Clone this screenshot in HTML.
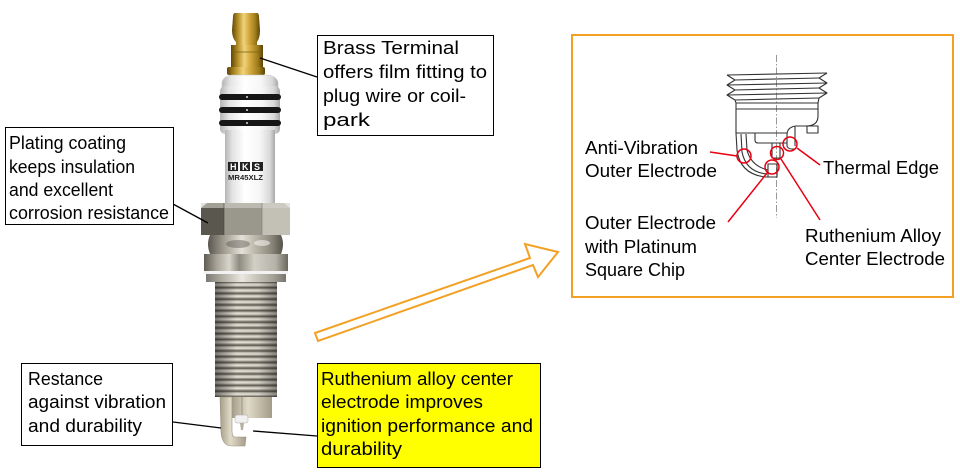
<!DOCTYPE html>
<html><head><meta charset="utf-8"><style>
html,body{margin:0;padding:0;background:#fff;}
svg{display:block;}
text{font-family:"Liberation Sans","Noto Sans CJK JP",sans-serif;font-size:18px;fill:#000;}
</style></head><body>
<svg width="960" height="475" viewBox="0 0 960 475" xmlns="http://www.w3.org/2000/svg">
<defs>
<linearGradient id="gold" x1="0" x2="1" y1="0" y2="0">
 <stop offset="0" stop-color="#5e4608"/><stop offset="0.2" stop-color="#b08a22"/>
 <stop offset="0.42" stop-color="#f0d37a"/><stop offset="0.6" stop-color="#d4aa40"/>
 <stop offset="0.85" stop-color="#9a7818"/><stop offset="1" stop-color="#5a430a"/>
</linearGradient>
<linearGradient id="ins" x1="0" x2="1" y1="0" y2="0">
 <stop offset="0" stop-color="#b5b5b5"/><stop offset="0.15" stop-color="#e4e4e4"/>
 <stop offset="0.4" stop-color="#ffffff"/><stop offset="0.7" stop-color="#f6f6f6"/>
 <stop offset="0.9" stop-color="#d8d8d8"/><stop offset="1" stop-color="#a8a8a8"/>
</linearGradient>
<linearGradient id="metal" x1="0" x2="1" y1="0" y2="0">
 <stop offset="0" stop-color="#5a574f"/><stop offset="0.2" stop-color="#9c988c"/>
 <stop offset="0.45" stop-color="#e4e1d8"/><stop offset="0.6" stop-color="#c2beb2"/>
 <stop offset="0.85" stop-color="#8a867a"/><stop offset="1" stop-color="#55524a"/>
</linearGradient>
<linearGradient id="gask" x1="0" x2="1" y1="0" y2="0">
 <stop offset="0" stop-color="#5f5c54"/><stop offset="0.15" stop-color="#a6a398"/>
 <stop offset="0.3" stop-color="#d8d5cc"/><stop offset="0.42" stop-color="#8e8b80"/>
 <stop offset="0.6" stop-color="#d2cfc6"/><stop offset="0.85" stop-color="#b5b2a8"/>
 <stop offset="1" stop-color="#6b685f"/>
</linearGradient>
<linearGradient id="thr" x1="0" y1="282" x2="0" y2="287.75" gradientUnits="userSpaceOnUse" spreadMethod="repeat">
 <stop offset="0" stop-color="#5f5b52"/><stop offset="0.3" stop-color="#cfcbbf"/>
 <stop offset="0.55" stop-color="#e8e5dc"/><stop offset="0.8" stop-color="#99958a"/>
 <stop offset="1" stop-color="#5f5b52"/>
</linearGradient>
<linearGradient id="shade" x1="0" x2="1" y1="0" y2="0">
 <stop offset="0" stop-color="#000" stop-opacity="0.45"/><stop offset="0.35" stop-color="#000" stop-opacity="0"/>
 <stop offset="0.7" stop-color="#000" stop-opacity="0.05"/><stop offset="1" stop-color="#000" stop-opacity="0.4"/>
</linearGradient>
<linearGradient id="tan" x1="0" x2="1" y1="0" y2="0">
 <stop offset="0" stop-color="#a49d88"/><stop offset="0.4" stop-color="#e0dac8"/>
 <stop offset="1" stop-color="#a39c87"/>
</linearGradient>
</defs>

<!-- ===== Spark plug ===== -->
<path d="M235,13 Q233,13 233,17 L232,30 Q232,38 236,42 L236,46 L257,46 L257,42 Q260,38 260,30 L259,17 Q259,13 257,13 Z" fill="url(#gold)"/>
<rect x="231" y="45" width="32" height="24" fill="url(#gold)"/>
<line x1="231" y1="52" x2="263" y2="52" stroke="#7a5e12" stroke-width="0.8"/>
<rect x="227" y="67" width="38" height="8" rx="2" fill="url(#gold)"/>
<path d="M222,90 L222,82 Q224,76 232,75 L268,75 Q276,76 278,82 L278,90 Z" fill="url(#ins)" stroke="#c8c8c8" stroke-width="0.6"/>
<rect x="220" y="86" width="60" height="48" rx="5" fill="url(#ins)"/>
<rect x="225" y="130" width="50" height="76" fill="url(#ins)"/>
<rect x="219" y="94" width="62" height="6" rx="3" fill="#161616"/>
<rect x="219" y="107" width="62" height="6" rx="3" fill="#161616"/>
<rect x="219" y="120" width="62" height="6" rx="3" fill="#161616"/>
<circle cx="247" cy="97" r="1" fill="#ddd"/><circle cx="247" cy="110" r="1" fill="#ddd"/><circle cx="247" cy="123" r="1" fill="#ddd"/>
<rect x="228" y="162" width="10" height="9" fill="#222"/><rect x="240" y="162" width="10" height="9" fill="#222"/><rect x="252" y="162" width="11" height="9" fill="#222"/>
<text x="230" y="170" style="font-size:9px;font-weight:bold;fill:#fff">H</text>
<text x="242" y="170" style="font-size:9px;font-weight:bold;fill:#fff">K</text>
<text x="254" y="170" style="font-size:9px;font-weight:bold;fill:#fff">S</text>
<text x="228" y="180" textLength="35" lengthAdjust="spacingAndGlyphs" style="font-size:7px;font-weight:bold;fill:#222">MR45XLZ</text>
<polygon points="201,208 207,203 224,203 224,235 201,235" fill="#5a574f"/>
<rect x="224" y="203" width="38" height="32" fill="#9a978d"/>
<polygon points="262,203 284,203 290,208 290,235 262,235" fill="#c3c0b6"/>
<rect x="201" y="203" width="89" height="5" fill="#d4d1c8" opacity="0.6"/>
<line x1="224" y1="203" x2="224" y2="235" stroke="#444" stroke-width="0.6"/>
<line x1="262" y1="203" x2="262" y2="235" stroke="#777" stroke-width="0.6"/>
<path d="M210,235 L281,235 Q285,244 281,254 L210,254 Q206,244 210,235 Z" fill="url(#metal)"/>
<ellipse cx="238" cy="244" rx="12" ry="4" fill="#5a574f" opacity="0.45"/>
<ellipse cx="262" cy="243" rx="8" ry="3" fill="#f4f2ec" opacity="0.6"/>
<rect x="204" y="254" width="84" height="18" fill="url(#gask)"/>
<rect x="204" y="271" width="84" height="3" fill="#f2f2f2"/>
<rect x="206" y="274" width="80" height="8" fill="url(#metal)" opacity="0.8"/>
<rect x="215" y="282" width="62" height="115" fill="url(#thr)"/>
<rect x="215" y="282" width="62" height="115" fill="url(#shade)"/>
<rect x="232" y="397" width="40" height="21" fill="url(#tan)"/>
<line x1="242" y1="397" x2="242" y2="418" stroke="#8f8a78" stroke-width="0.8"/>
<rect x="235" y="415" width="13" height="8" rx="2" fill="#f0f0f0" stroke="#aaa" stroke-width="0.5"/>
<path d="M240,423 L244,423 L243,430 L241,430 Z" fill="#b5b0a0"/>
<path d="M220,397 L221,432 Q222,446 232,446 L245,446 L246,437 L235,437 Q232,437 232,430 L232,397 Z" fill="url(#tan)" stroke="#9a937f" stroke-width="0.6"/>

<g stroke="#000" stroke-width="1.3">
<line x1="260" y1="58" x2="317" y2="77"/>
<line x1="173" y1="204" x2="208" y2="223"/>
<line x1="173" y1="422" x2="221" y2="428"/>
<line x1="253" y1="431" x2="317" y2="436"/>
</g>

<rect x="317.5" y="35.5" width="176" height="100" fill="#fff" stroke="#000" stroke-width="1"/>
<text x="323" y="54" textLength="136" lengthAdjust="spacingAndGlyphs">Brass Terminal</text>
<text x="323" y="78" textLength="164" lengthAdjust="spacingAndGlyphs">offers film fitting to</text>
<text x="323" y="102" textLength="143" lengthAdjust="spacingAndGlyphs">plug wire or coil-</text>
<text x="323" y="126" textLength="47" lengthAdjust="spacingAndGlyphs">park</text>

<rect x="5.5" y="127.5" width="168" height="97" fill="#fff" stroke="#000" stroke-width="1"/>
<text x="9" y="149" textLength="117" lengthAdjust="spacingAndGlyphs">Plating coating</text>
<text x="9" y="173" textLength="126" lengthAdjust="spacingAndGlyphs">keeps insulation</text>
<text x="9" y="196" textLength="104" lengthAdjust="spacingAndGlyphs">and excellent</text>
<text x="9" y="219" textLength="160" lengthAdjust="spacingAndGlyphs">corrosion resistance</text>

<rect x="21.5" y="363.5" width="151" height="82" fill="#fff" stroke="#000" stroke-width="1"/>
<text x="28" y="385" textLength="75" lengthAdjust="spacingAndGlyphs">Restance</text>
<text x="28" y="408" textLength="138" lengthAdjust="spacingAndGlyphs">against vibration</text>
<text x="28" y="432" textLength="114" lengthAdjust="spacingAndGlyphs">and durability</text>

<rect x="317.5" y="363.5" width="223" height="104" fill="#ffff00" stroke="#000" stroke-width="1"/>
<text x="321" y="385" textLength="192" lengthAdjust="spacingAndGlyphs">Ruthenium alloy center</text>
<text x="321" y="408" textLength="162" lengthAdjust="spacingAndGlyphs">electrode improves</text>
<text x="321" y="432" textLength="212" lengthAdjust="spacingAndGlyphs">ignition performance and</text>
<text x="321" y="455" textLength="81" lengthAdjust="spacingAndGlyphs">durability</text>

<polygon points="315,333 530,258 525,244 558,252 538,277 533,265 318,341" fill="#fff" stroke="#f2a125" stroke-width="2" stroke-linejoin="miter"/>

<rect x="572" y="35" width="381" height="262" fill="#fff" stroke="#f2a125" stroke-width="2"/>

<line x1="776.5" y1="55" x2="776.5" y2="218" stroke="#999" stroke-width="1" stroke-dasharray="7,2,1.5,2"/>
<g fill="none" stroke="#333" stroke-width="1.1" stroke-linejoin="round">
<polyline points="727,75 735,80 727,85 735,90 727,95 735,100 736,103"/>
<polyline points="827,73 819,78 827,83 819,88 827,93 819,98 818,103"/>
<line x1="727" y1="75" x2="827" y2="73"/>
<line x1="735" y1="80" x2="819" y2="78"/>
<line x1="727" y1="85" x2="827" y2="83"/>
<line x1="735" y1="90" x2="819" y2="88"/>
<line x1="727" y1="95" x2="827" y2="93"/>
<line x1="735" y1="100" x2="819" y2="98"/>
<line x1="736" y1="103" x2="818" y2="103"/>
<line x1="736" y1="109" x2="818" y2="109"/>
<path d="M736,103 L736,133 L787,133"/>
<path d="M818,103 L818,116 Q818,126 806,126 L796,126 Q787,127 787,135 L787,146 Q788,149 792,149 L795,149"/>
<path d="M795,126 L795,146"/>
<rect x="807" y="126" width="11" height="7"/>
<path d="M736,133 L737,150 Q740,174 765,177 L777,177 L777,165"/>
<path d="M741,134 L742,152 Q746,172 767,174"/>
<path d="M746,134 L747,150 Q751,166 768,170"/>
<path d="M755,133 L755,140 Q755,143 758,143 L787,143"/>
<rect x="772" y="143" width="8" height="15"/>
<rect x="768" y="164" width="9" height="13"/>
</g>
<g fill="none" stroke="#e60012" stroke-width="1.5">
<circle cx="744" cy="156" r="7"/>
<circle cx="772" cy="167" r="7"/>
<circle cx="777" cy="153" r="6.5"/>
<circle cx="790" cy="144" r="7"/>
<line x1="710" y1="152" x2="737" y2="156"/>
<line x1="767" y1="173" x2="728" y2="222"/>
<line x1="781" y1="159" x2="820" y2="220"/>
<line x1="797" y1="148" x2="820" y2="165"/>
</g>
<text x="585" y="154" textLength="113" lengthAdjust="spacingAndGlyphs">Anti-Vibration</text>
<text x="585" y="177" textLength="132" lengthAdjust="spacingAndGlyphs">Outer Electrode</text>
<text x="823" y="174" textLength="116" lengthAdjust="spacingAndGlyphs">Thermal Edge</text>
<text x="585" y="229" textLength="131" lengthAdjust="spacingAndGlyphs">Outer Electrode</text>
<text x="585" y="253" textLength="112" lengthAdjust="spacingAndGlyphs">with Platinum</text>
<text x="585" y="276" textLength="100" lengthAdjust="spacingAndGlyphs">Square Chip</text>
<text x="805" y="242" textLength="136" lengthAdjust="spacingAndGlyphs">Ruthenium Alloy</text>
<text x="805" y="265" textLength="140" lengthAdjust="spacingAndGlyphs">Center Electrode</text>
</svg>
</body></html>
